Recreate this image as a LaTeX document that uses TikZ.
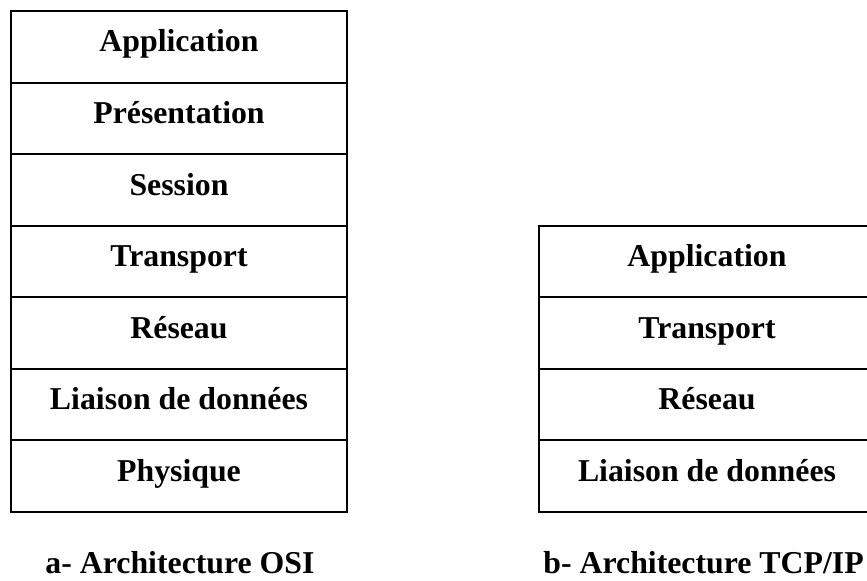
\documentclass[tikz,border=0pt]{standalone}
\usepackage{fontspec}
\setmainfont{Liberation Serif}
\begin{document}
\begin{tikzpicture}[x=0.5pt,y=-0.5pt,
  layer/.style={draw, line width=1pt, inner sep=0pt,
    minimum width=168pt, minimum height=35.8pt,
    text height=11.9pt, text depth=6.7pt,
    font=\fontsize{15.9pt}{19pt}\selectfont\bfseries},
  legend/.style={inner sep=0pt,
    font=\fontsize{15.9pt}{19pt}\selectfont\bfseries}]
\useasboundingbox (0,0) rectangle (867,581);
\clip (0,0) rectangle (867,581);

% OSI model: seven layers
\node[layer] (osiapp)  at (179,46.8)  {Application};
\node[layer] (osipres) at (179,118.4) {Présentation};
\node[layer] (osisess) at (179,189.9) {Session};
\node[layer] (ositran) at (179,261.5) {Transport};
\node[layer] (osinet)  at (179,333.1) {Réseau};
\node[layer] (osilink) at (179,404.6) {Liaison de données};
\node[layer] (osiphy)  at (179,476.2) {Physique};

% TCP/IP model: four layers
\node[layer] (tcpapp)  at (707,261.5) {Application};
\node[layer] (tcptran) at (707,333.1) {Transport};
\node[layer] (tcpnet)  at (707,404.6) {Réseau};
\node[layer] (tcplink) at (707,476.2) {Liaison de données};

% captions
\node[legend, anchor=base] (capa) at (180,574) {a- Architecture OSI};
\node[legend, anchor=base west] (capb) at (543,574) {b- Architecture TCP/IP};
\end{tikzpicture}
\end{document}
